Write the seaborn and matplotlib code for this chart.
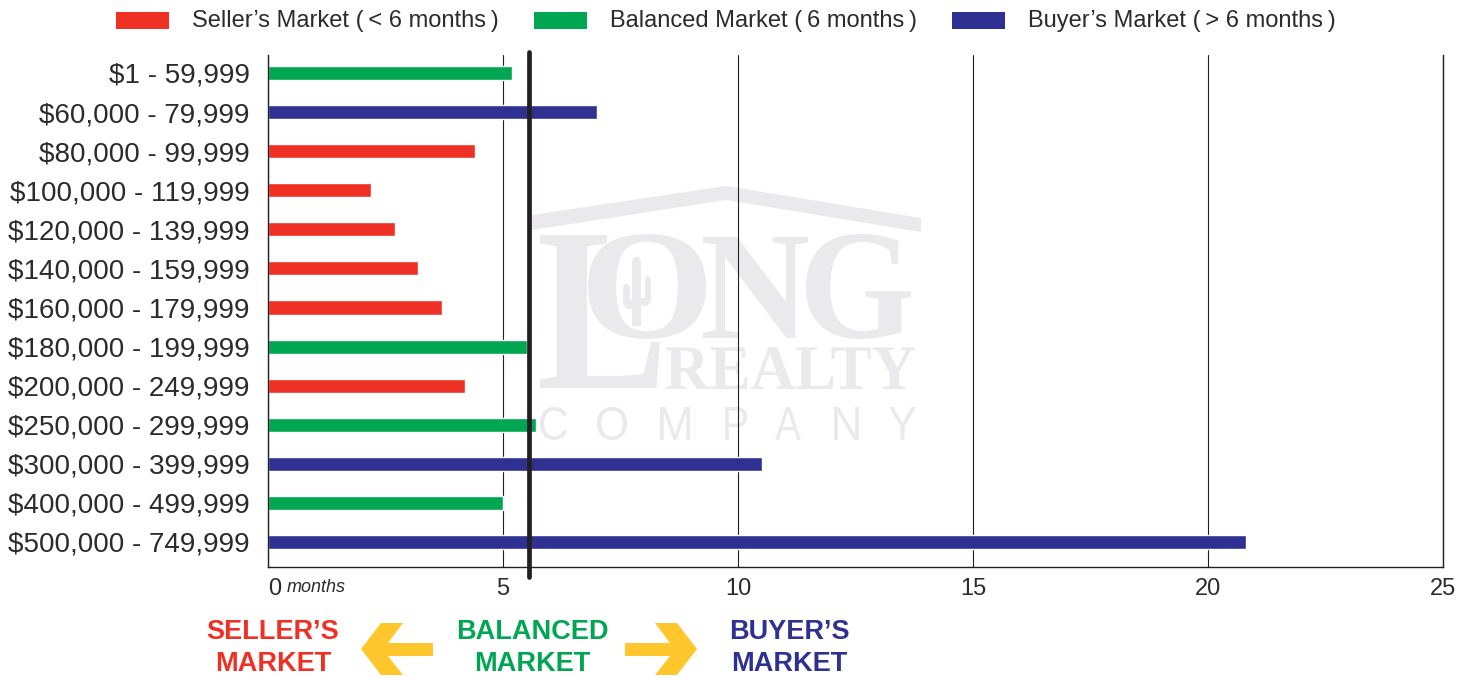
import matplotlib
matplotlib.use("Agg")
import numpy as np
import pandas as pd
import seaborn as sns
import matplotlib.pyplot as plt
from matplotlib.patches import Polygon, Rectangle, PathPatch
from matplotlib.textpath import TextPath
from matplotlib.font_manager import FontProperties
from matplotlib.transforms import Affine2D

# ---- data -------------------------------------------------------------
price_ranges = [
    "$1 - 59,999", "$60,000 - 79,999", "$80,000 - 99,999",
    "$100,000 - 119,999", "$120,000 - 139,999", "$140,000 - 159,999",
    "$160,000 - 179,999", "$180,000 - 199,999", "$200,000 - 249,999",
    "$250,000 - 299,999", "$300,000 - 399,999", "$400,000 - 499,999",
    "$500,000 - 749,999",
]
months_of_inventory = [5.2, 7.0, 4.4, 2.2, 2.7, 3.2, 3.7, 5.5, 4.2, 5.7, 10.5, 5.0, 20.8]
market_type = ["Balanced", "Buyer", "Seller", "Seller", "Seller", "Seller", "Seller",
               "Balanced", "Seller", "Balanced", "Buyer", "Balanced", "Buyer"]
market_order = ["Seller", "Balanced", "Buyer"]
legend_labels = ["Seller\u2019s Market (\u2009< 6 months\u2009)",
                 "Balanced Market (\u20096 months\u2009)",
                 "Buyer\u2019s Market (\u2009> 6 months\u2009)"]
x_ticks = [0, 5, 10, 15, 20, 25]
divider_months = 5.55
footer_labels = [("SELLER\u2019S", "MARKET"), ("BALANCED", "MARKET"), ("BUYER\u2019S", "MARKET")]

# ---- style ------------------------------------------------------------
RED, GREEN, BLUE, YELLOW = "#EE3124", "#00A651", "#2E3192", "#FFC72C"
INK = "#231F20"
TEXT = "#2B2B2B"
WM = "#EAEAEC"
palette = dict(zip(market_order, [RED, GREEN, BLUE]))

sns.set_theme(style="white")
plt.rcParams["font.family"] = ["Liberation Sans", "DejaVu Sans"]

W, H = 1474, 677
fig = plt.figure(figsize=(W / 100, H / 100), dpi=100)
fig.patch.set_facecolor("white")


def fx(px):
    return px / W


def fy(py):
    return 1 - py / H


ax = fig.add_axes([fx(268), fy(567), fx(1443) - fx(268), fy(55) - fy(567)])

df = pd.DataFrame({"range": price_ranges, "months": months_of_inventory, "market": market_type})

# ---- watermark logo (drawn behind grid and bars) ----------------------
def glyphs(text, box, family, weight="bold"):
    x0, y0, x1, y1 = box
    prop = FontProperties(family=family, weight=weight)
    path = TextPath((0, 0), text, prop=prop, size=100)
    ext = path.get_extents()
    tr = (Affine2D().translate(-ext.x0, -ext.y0)
          .scale((x1 - x0) / ext.width, (y1 - y0) / ext.height)
          .translate(x0, H - y1)
          .scale(1 / W, 1 / H))
    ax.add_patch(PathPatch(tr.transform_path(path), facecolor=WM, edgecolor="none",
                           transform=fig.transFigure, zorder=0.2))


def block(points, color, z=0.2):
    pts = [(fx(x), fy(y)) for x, y in points]
    ax.add_patch(Polygon(pts, closed=True, facecolor=color, edgecolor="none",
                         transform=fig.transFigure, zorder=z))


# roof
block([(532, 215), (726, 186), (921, 218), (921, 232), (726, 200), (532, 230)], WM)
glyphs("L", (540, 235, 660, 388), "Liberation Serif")
glyphs("O", (588, 234, 706, 339), "Liberation Serif")
glyphs("N", (703, 237, 808, 338), "Liberation Serif")
glyphs("G", (806, 234, 911, 339), "Liberation Serif")
glyphs("REALTY", (666, 347, 915, 389), "Liberation Serif")
# cactus inside the O
block([(632, 262), (634, 257), (639, 257), (641, 262), (641, 326), (632, 326)], WM)
block([(623, 287), (625, 284), (628, 284), (630, 287), (630, 300), (636, 300),
       (636, 309), (627, 309), (623, 304)], WM)
block([(645, 280), (647, 276), (649, 276), (651, 280), (651, 302), (647, 306),
       (638, 306), (638, 298), (645, 298)], WM)
for letter, (a, b) in zip("COMPANY", [(540, 567), (597, 627), (660, 690), (725, 747),
                                      (775, 801), (834, 859), (889, 916)]):
    glyphs(letter, (a, 407, b, 440), "Liberation Sans", weight="normal")

# ---- bars ---------------------------------------------------------------
sns.barplot(data=df, x="months", y="range", hue="market", order=price_ranges,
            hue_order=market_order, palette=palette, dodge=False, width=0.36,
            saturation=1, legend=False, orient="h", ax=ax, zorder=2)

ax.set_xlim(0, 25)
ax.set_ylim(12.64, -0.46)
ax.set_xticks(x_ticks)
ax.set_xticklabels([str(t) for t in x_ticks])
ax.xaxis.grid(True, color=INK, lw=0.8)
ax.yaxis.grid(False)
ax.set_axisbelow(True)
ax.set_xlabel("")
ax.set_ylabel("")
ax.tick_params(axis="x", length=0, pad=8, labelsize=17, labelcolor=TEXT)
ax.tick_params(axis="y", length=0, pad=13, labelsize=20, labelcolor=TEXT)
ax.get_xticklabels()[0].set_horizontalalignment("left")
for side in ("left", "bottom", "right"):
    ax.spines[side].set_visible(True)
    ax.spines[side].set_color(INK)
    ax.spines[side].set_linewidth(1.0)
ax.spines["top"].set_visible(False)

fig.text(fx(287), fy(588), "months", style="italic", fontsize=13,
         color=TEXT, va="center", ha="left")

# balanced-market divider
ax.axvline(divider_months, ymin=-0.0195, ymax=1.006, color=INK, lw=3.4,
           clip_on=False, zorder=4, solid_capstyle="round")

# ---- legend row ---------------------------------------------------------
for color, label, px in zip([RED, GREEN, BLUE], legend_labels, [116, 534, 952]):
    fig.patches.append(Rectangle((fx(px), fy(29)), fx(53), fy(12) - fy(29),
                                 transform=fig.transFigure, facecolor=color,
                                 edgecolor="none"))
    fig.text(fx(px + 76), fy(21), label, fontsize=17, color=TEXT,
             va="center", ha="left")

# ---- footer: market direction -------------------------------------------
for (top, bottom), color, cx in zip(footer_labels, [RED, GREEN, BLUE], [273, 532, 789]):
    fig.text(fx(cx), fy(632), top, fontsize=19.5, fontweight="bold", color=color,
             ha="center", va="center")
    fig.text(fx(cx), fy(664), bottom, fontsize=19.5, fontweight="bold", color=color,
             ha="center", va="center")


def fig_poly(points, color):
    pts = [(fx(x), fy(y)) for x, y in points]
    fig.patches.append(Polygon(pts, closed=True, facecolor=color, edgecolor="none",
                               transform=fig.transFigure))


# left-pointing arrow
fig_poly([(361, 649), (381, 623), (403, 623), (388, 643), (433, 643), (433, 656),
          (388, 656), (403, 675), (381, 675)], YELLOW)
# right-pointing arrow
fig_poly([(697, 649), (677, 623), (655, 623), (670, 643), (625, 643), (625, 656),
          (670, 656), (655, 675), (677, 675)], YELLOW)

fig.savefig("out.png", dpi=100, facecolor="white")
